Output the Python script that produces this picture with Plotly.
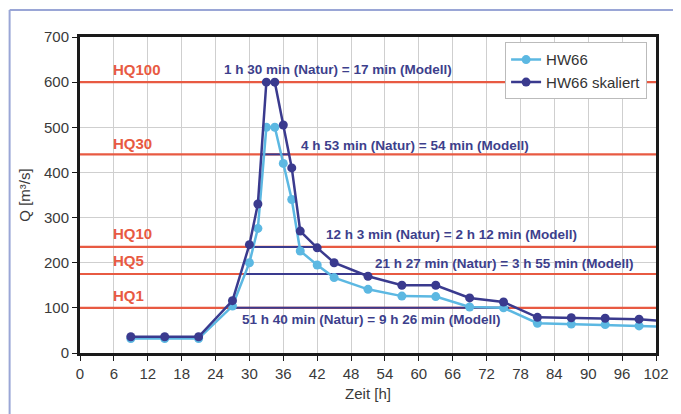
import plotly.graph_objects as go

# ---- data ----
hours = [9, 15, 21, 27, 30, 31.5, 33, 34.5, 36, 37.5, 39, 42, 45, 51, 57, 63, 69, 75, 81, 87, 93, 99]
hw66 = [32, 32, 32, 104, 200, 276, 500, 500, 420, 340, 226, 195, 167, 141, 126, 125, 102, 100, 66, 64, 63, 60]
hw66_skaliert = [36, 36, 36, 116, 240, 330, 600, 600, 505, 410, 270, 233, 200, 170, 150, 150, 122, 113, 79, 78, 77, 75]
tail_hours = [99, 103]
tail_hw66 = [60, 58]
tail_skaliert = [75, 71]

hq_names = ["HQ100", "HQ30", "HQ10", "HQ5", "HQ1"]
hq_values = [600, 440, 235, 175, 100]
hq_label_y = [628, 464, 265, 204, 127]

dur_levels = [440, 235, 175, 100]
dur_start = [32.1, 30.0, 29.0, 27.5]
dur_end = [37.0, 42.1, 50.5, 76.0]

dur_texts = [
    "1 h 30 min (Natur) = 17 min (Modell)",
    "4 h 53 min (Natur) = 54 min (Modell)",
    "12 h 3 min (Natur) = 2 h 12 min (Modell)",
    "21 h 27 min (Natur) = 3 h 55 min (Modell)",
    "51 h 40 min (Natur) = 9 h 26 min (Modell)",
]
dur_text_x = [45.6, 59.3, 65.8, 75.0, 51.6]
dur_text_y = [628, 459, 263, 198, 75]

x_ticks = list(range(0, 103, 6))
y_ticks = list(range(0, 701, 100))

LIGHT = "#5CB8E2"
DARK = "#3A3A8E"
RED = "#E85A42"
NAVY_TXT = "#3D3F8C"
TXT = "#3a3a3a"
FONT = "Liberation Sans, Arial, sans-serif"

fig = go.Figure()

# HQ threshold lines
for v in hq_values:
    fig.add_trace(go.Scatter(x=[0, 102], y=[v, v], mode="lines",
                             line=dict(color=RED, width=2.2),
                             showlegend=False, hoverinfo="skip"))

# duration lines
for lv, s, e in zip(dur_levels, dur_start, dur_end):
    fig.add_trace(go.Scatter(x=[s, e], y=[lv, lv], mode="lines",
                             line=dict(color=DARK, width=2),
                             showlegend=False, hoverinfo="skip"))

# tails (no markers)
fig.add_trace(go.Scatter(x=tail_hours, y=tail_hw66, mode="lines",
                         line=dict(color=LIGHT, width=2.5), showlegend=False, hoverinfo="skip"))
fig.add_trace(go.Scatter(x=tail_hours, y=tail_skaliert, mode="lines",
                         line=dict(color=DARK, width=2.5), showlegend=False, hoverinfo="skip"))

fig.add_trace(go.Scatter(x=hours, y=hw66, mode="lines+markers", name="HW66",
                         line=dict(color=LIGHT, width=2.5),
                         marker=dict(color=LIGHT, size=9)))
fig.add_trace(go.Scatter(x=hours, y=hw66_skaliert, mode="lines+markers", name="HW66 skaliert",
                         line=dict(color=DARK, width=2.5),
                         marker=dict(color=DARK, size=9)))

annotations = []
for name, y in zip(hq_names, hq_label_y):
    annotations.append(dict(x=5.5, y=y, xref="x", yref="y", text="<b>%s</b>" % name,
                            showarrow=False, xanchor="left", yanchor="middle",
                            font=dict(family=FONT, size=15, color=RED)))
for t, x, y in zip(dur_texts, dur_text_x, dur_text_y):
    annotations.append(dict(x=x, y=y, xref="x", yref="y", text="<b>%s</b>" % t,
                            showarrow=False, xanchor="center", yanchor="middle",
                            font=dict(family=FONT, size=13.5, color=NAVY_TXT)))

# outer chart frame (left and top lines)
shapes = [
    dict(type="line", xref="paper", yref="paper", x0=-71/581, x1=-71/581, y0=-0.4, y1=(316 + 27)/316,
         line=dict(color="#9AA6D6", width=2)),
    dict(type="line", xref="paper", yref="paper", x0=-71/581, x1=1.1, y0=(316 + 27)/316, y1=(316 + 27)/316,
         line=dict(color="#9AA6D6", width=2)),
]

fig.update_layout(
    width=673, height=406,
    margin=dict(l=72, r=20, t=29, b=61),
    paper_bgcolor="white", plot_bgcolor="white",
    font=dict(family=FONT, size=15, color=TXT),
    showlegend=True,
    legend=dict(x=0.738, y=0.983, xanchor="left", yanchor="top",
                bgcolor="white", bordercolor="#BBBBBB", borderwidth=1,
                font=dict(family=FONT, size=15, color="#333")),
    annotations=annotations,
    shapes=shapes,
    xaxis=dict(range=[0, 102], tickvals=x_ticks, ticktext=[str(v) for v in x_ticks],
               showgrid=True, gridcolor="#CFCFCF", gridwidth=1,
               showline=True, linecolor="#1a1a1a", linewidth=3, mirror=True,
               ticks="outside", ticklen=5, tickcolor="#1a1a1a",
               zeroline=False,
               title=dict(text="Zeit [h]", font=dict(size=15, color=TXT), standoff=8),
               tickfont=dict(size=15, color=TXT)),
    yaxis=dict(range=[0, 700], tickvals=y_ticks, ticktext=[str(v) for v in y_ticks],
               showgrid=True, gridcolor="#CFCFCF", gridwidth=1,
               showline=True, linecolor="#1a1a1a", linewidth=3, mirror=True,
               ticks="outside", ticklen=5, tickcolor="#1a1a1a",
               zeroline=False,
               title=dict(text="Q [m³/s]", font=dict(size=15, color=TXT), standoff=10),
               tickfont=dict(size=15, color=TXT)),
)

fig.write_html("out.html")
